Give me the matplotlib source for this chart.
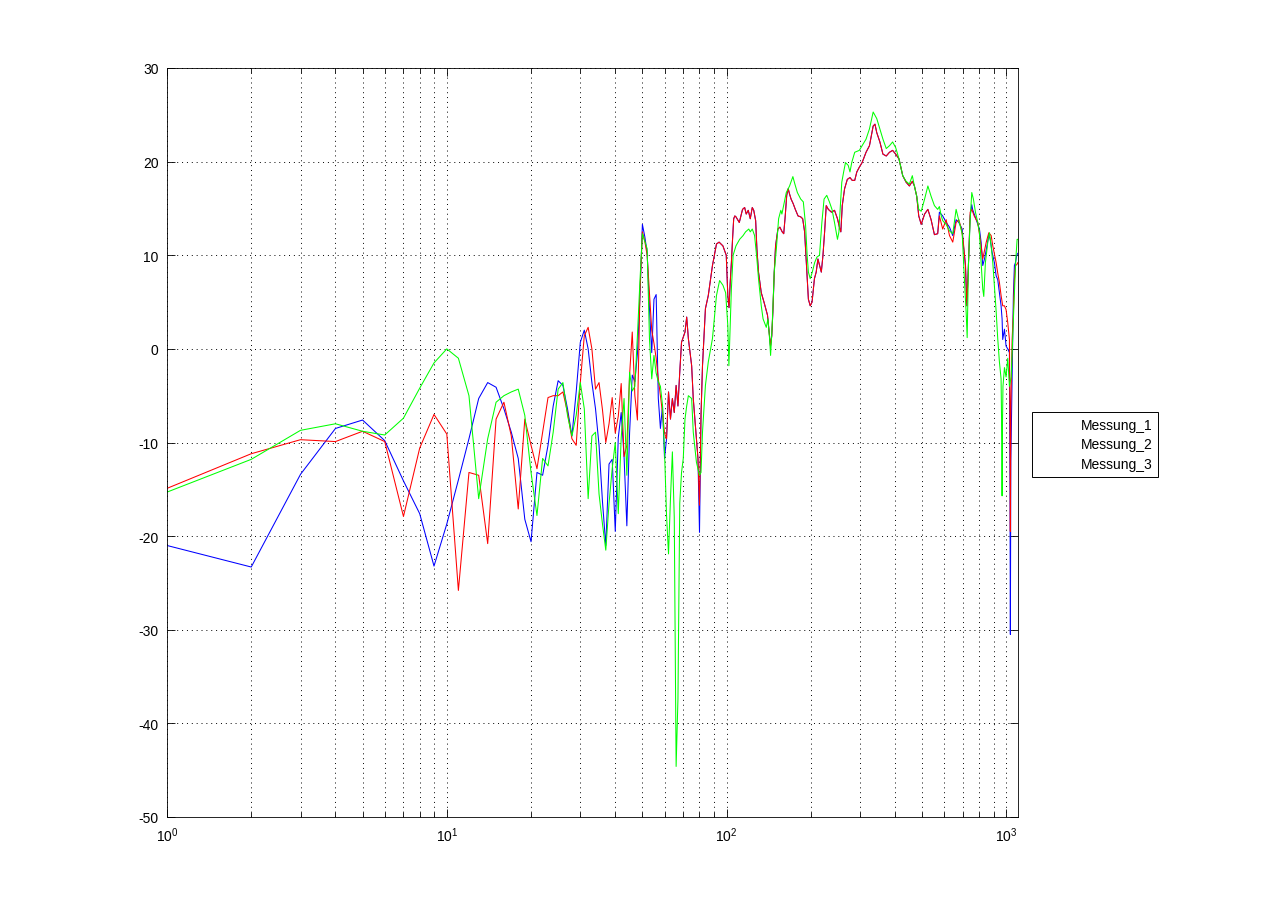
import matplotlib
matplotlib.use("Agg")
import matplotlib.pyplot as plt
from matplotlib.lines import Line2D
from matplotlib.ticker import LogLocator, NullFormatter, FixedLocator

# ---------------------------------------------------------------------------
# Data (frequency in Hz, level in dB)
# ---------------------------------------------------------------------------

freq_m1 = [1, 2, 3, 4, 5, 6, 7, 8, 9, 10, 11, 12, 13, 14, 15, 16, 17, 18, 19, 20,
           21, 22, 23, 24, 25, 26, 27, 28, 29, 30, 31, 32, 33, 34, 35, 36, 37, 38, 39, 40,
           41, 42, 43, 44, 45, 46, 47, 48, 49, 50, 51, 52, 53, 54, 55, 56, 57, 58, 59, 60,
           61, 62, 63, 64, 65, 66, 67, 68, 69, 71, 72, 73, 75, 76, 78, 79, 80, 81, 82, 84,
           86, 89, 92, 94, 97, 99.7, 101, 102, 103, 104, 105, 106, 107, 108, 110, 111, 114,
           116, 117.5, 119.5, 121.5, 123.5, 125, 127, 128.3, 130, 133, 136, 140, 142.4,
           143.5, 145, 146.3, 148, 149.6, 152.5, 155, 158, 160, 162, 164, 166, 168, 170,
           173, 176, 180, 184, 187, 190, 193, 196, 199, 202, 206, 209, 212, 215, 218, 221,
           224, 227, 231, 237, 243, 249, 254, 256, 259, 264, 270, 276, 281, 287, 292, 298,
           305, 315, 324, 334, 339, 344, 353, 362, 372, 382, 392, 402, 413, 426, 438, 450,
           461, 469, 478, 486, 496, 510, 524, 538, 553, 568, 576, 592, 609, 626, 643, 661,
           676, 695, 700, 714, 722, 732, 742, 752, 757, 780, 801, 812, 823, 835, 852, 865,
           875, 889, 906, 919, 931, 944, 957, 965, 970, 984, 997, 1011, 1025, 1030, 1033,
           1037, 1048, 1059, 1068, 1077, 1089, 1098]
db_m1 = [-21.0, -23.3, -13.4, -8.5, -7.6, -9.8, -14.1, -17.6, -23.2, -18.7, -14.0, -9.6,
         -5.3, -3.6, -4.1, -6.4, -8.9, -11.7, -18.2, -20.6, -13.2, -13.5, -10.3, -6.1, -3.4,
         -3.9, -6.4, -9.3, -4.6, 0.7, 2.0, 0.0, -3.6, -6.4, -10.3, -16.3, -21.0, -12.3,
         -11.8, -19.5, -9.5, -6.8, -11.5, -18.9, -9.0, -2.8, -3.5, -0.5, 5.5, 13.3, 12.0,
         10.3, 4.3, -0.4, 5.3, 5.8, -5.3, -8.5, -6.1, -11.7, -9.6, -4.6, -7.5, -5.3, -6.8,
         -3.9, -6.1, -2.5, 0.7, 1.8, 3.4, 1.1, -1.8, -5.3, -9.6, -11.7, -19.6, -7.1, -1.8,
         4.3, 5.7, 8.9, 11.2, 11.4, 11.0, 10.0, 5.7, 4.4, 7.1, 9.2, 11.7, 13.9, 14.2, 14.1,
         13.7, 13.5, 14.9, 15.1, 14.4, 14.8, 13.9, 15.1, 14.8, 13.7, 10.7, 8.2, 6.0, 5.0,
         3.6, 1.4, 0.3, 1.4, 3.9, 8.2, 11.0, 12.8, 13.0, 12.5, 12.3, 14.2, 16.4, 17.1, 16.5,
         16.0, 15.5, 14.9, 14.2, 14.1, 13.9, 12.5, 8.9, 5.3, 4.6, 5.0, 7.5, 8.2, 9.6, 8.9,
         8.2, 10.0, 12.5, 15.3, 14.9, 14.6, 14.8, 13.9, 12.8, 12.5, 15.3, 17.1, 18.1, 18.3,
         18.0, 18.0, 18.9, 19.4, 19.9, 21.0, 21.7, 23.8, 24.0, 23.1, 22.1, 20.8, 20.6, 21.0,
         21.2, 20.8, 20.3, 18.5, 17.8, 17.4, 17.9, 17.4, 16.3, 14.2, 13.3, 14.4, 14.9, 13.8,
         12.2, 12.3, 14.6, 14.2, 13.5, 13.0, 12.1, 13.8, 13.5, 12.8, 11.4, 8.9, 4.6, 9.2,
         14.2, 15.4, 14.9, 13.8, 12.8, 11.4, 8.9, 9.6, 11.0, 12.2, 11.7, 10.3, 9.2, 7.8, 7.4,
         6.0, 4.6, 3.2, 1.0, 2.1, 0.3, 0.0, -0.4, -15.0, -30.5, -12.0, -3.0, 5.7, 8.9, 9.2,
         10.0, 10.2]

freq_m2 = [1, 2, 3, 4, 5, 6, 7, 8, 9, 10, 11, 12, 13, 14, 15, 16, 17, 18, 19, 20,
           21, 22, 23, 24, 25, 26, 27, 28, 29, 30, 31, 32, 33, 34, 35, 36, 37, 38, 39, 40,
           41, 42, 43, 44, 45, 46, 47, 48, 49, 50, 51, 52, 53, 54, 55, 56, 57, 58, 59, 60,
           61, 62, 63, 64, 65, 66, 67, 68, 69, 71, 72, 73, 75, 76, 78, 79, 80, 81, 82, 84,
           86, 89, 92, 94, 97, 99.7, 101, 102, 103, 104, 105, 106, 107, 108, 110, 111, 114,
           116, 117.5, 119.5, 121.5, 123.5, 125, 127, 128.3, 130, 133, 136, 140, 142.4,
           143.5, 145, 146.3, 148, 149.6, 152.5, 155, 158, 160, 162, 164, 166, 168, 170,
           173, 176, 180, 184, 187, 190, 193, 196, 199, 202, 206, 209, 212, 215, 218, 221,
           224, 227, 231, 237, 243, 249, 254, 256, 259, 264, 270, 276, 281, 287, 292, 298,
           305, 315, 324, 334, 339, 344, 353, 362, 372, 382, 392, 402, 413, 426, 438, 450,
           461, 469, 478, 486, 496, 510, 524, 538, 553, 568, 576, 592, 609, 626, 643, 661,
           676, 690, 700, 714, 722, 732, 742, 752, 767, 790, 812, 823, 847, 865, 882, 894,
           919, 931, 944, 957, 970, 984, 997, 1011, 1025, 1030, 1033, 1037, 1048, 1059,
           1068, 1077, 1089, 1098]
db_m2 = [-14.9, -11.2, -9.7, -9.9, -8.8, -9.9, -17.9, -10.6, -7.0, -9.1, -25.8, -13.2,
         -13.5, -20.8, -7.5, -5.7, -9.3, -17.1, -7.5, -10.3, -12.8, -8.9, -5.2, -5.0, -5.0,
         -4.6, -6.8, -9.6, -10.3, -3.6, 1.4, 2.3, 0.0, -4.3, -3.6, -6.5, -10.0, -8.0, -5.2,
         -9.0, -7.2, -3.7, -11.5, -10.3, -2.8, 1.8, -5.0, -7.6, 6.0, 12.5, 11.5, 10.0, 6.0,
         2.0, 0.6, -1.0, -3.2, -5.0, -6.8, -9.0, -9.6, -4.6, -7.5, -5.3, -6.8, -3.9, -6.1,
         -2.5, 0.7, 1.8, 3.4, 1.1, -1.8, -5.3, -9.6, -11.7, -16.7, -7.1, -1.8, 4.3, 5.7,
         8.9, 11.2, 11.4, 11.0, 10.0, 5.7, 4.4, 7.1, 9.2, 11.7, 13.9, 14.2, 14.1, 13.7, 13.5,
         14.9, 15.1, 14.4, 14.8, 13.9, 15.1, 14.8, 13.7, 10.7, 8.2, 6.0, 5.0, 3.6, 1.4, 0.3,
         1.4, 3.9, 8.2, 11.0, 12.8, 13.0, 12.5, 12.3, 14.2, 16.4, 17.1, 16.5, 16.0, 15.5,
         14.9, 14.2, 14.1, 13.9, 12.5, 8.9, 5.3, 4.6, 5.0, 7.5, 8.2, 9.6, 8.9, 8.2, 10.0,
         12.5, 15.3, 14.9, 14.6, 14.8, 13.9, 12.8, 12.5, 15.3, 17.1, 18.1, 18.3, 18.0, 18.0,
         18.9, 19.4, 19.9, 21.0, 21.7, 23.8, 24.0, 23.1, 22.1, 20.8, 20.6, 21.0, 21.2, 20.8,
         20.3, 18.5, 17.8, 17.4, 17.9, 17.4, 16.3, 14.2, 13.3, 14.4, 14.9, 13.8, 12.2, 12.3,
         14.2, 12.8, 13.8, 12.1, 11.4, 13.5, 13.8, 12.8, 11.7, 8.9, 4.6, 9.2, 14.6, 14.9,
         14.2, 13.5, 11.0, 9.6, 11.4, 12.4, 12.1, 11.0, 9.2, 8.1, 7.1, 5.7, 4.6, 4.6, 4.2,
         2.8, 1.0, -8.0, -19.5, -6.0, 1.0, 3.9, 7.4, 8.9, 9.0, 9.2]

freq_m3 = [1, 2, 3, 4, 5, 6, 7, 8, 9, 10, 11, 12, 13, 14, 15, 16, 17, 18, 19, 20,
           21, 22, 23, 24, 25, 26, 27, 28, 29, 30, 31, 32, 33, 34, 35, 36, 37, 38, 39, 40,
           41, 42, 43, 44, 45, 46, 47, 48, 49, 50, 51, 52, 53, 54, 55, 56, 57, 58, 59, 60,
           61, 62, 63, 64, 65, 66, 67, 68, 69, 70, 71, 72, 73, 75, 76, 78, 80, 81, 82, 84,
           86, 89, 92, 94.4, 97, 99.2, 101, 101.9, 104, 105.5, 108, 111.3, 114.5, 116.9, 120,
           121.5, 123.5, 125.9, 128.3, 130, 133, 135, 138.6, 140.5, 142.4, 143.6, 145.5, 148,
           150.6, 153.4, 156.2, 157.6, 159.8, 163.4, 167.9, 172.5, 175.4, 179, 184, 188,
           191.5, 194, 196, 199, 202.4, 206.3, 210.2, 214.8, 219, 223, 228, 233, 238, 243,
           249, 252, 255, 258, 262, 266, 272, 276, 280, 287, 298, 305, 315, 324, 334, 344,
           353, 362, 372, 382, 392, 402, 413, 426, 438, 450, 461, 469, 478, 486, 496, 510,
           524, 538, 553, 568, 576, 585, 592, 600, 609, 626, 643, 661, 676, 695, 708, 718,
           724, 732, 742, 752, 762, 775, 790, 801, 812, 823, 830, 841, 858, 870, 882, 894,
           906, 919, 931, 944, 957, 963, 965, 968, 972, 984, 997, 1011, 1025, 1040, 1055,
           1068, 1080, 1092, 1098]
db_m3 = [-15.3, -11.8, -8.7, -8.0, -8.8, -9.2, -7.4, -4.2, -1.5, 0.0, -1.0, -5.0, -16.0,
         -9.6, -5.7, -5.0, -4.6, -4.3, -7.1, -13.2, -17.8, -11.7, -12.5, -8.9, -4.3, -3.6,
         -7.1, -9.3, -7.1, -3.6, -6.4, -16.0, -9.3, -8.9, -15.5, -18.7, -21.5, -16.5, -12.8,
         -10.0, -17.6, -9.5, -5.3, -13.5, -2.5, -4.5, -4.0, 1.4, 7.2, 12.3, 11.5, 10.7, 1.1,
         -3.2, -0.7, -2.6, -3.5, -4.0, -6.0, -11.0, -17.8, -21.9, -16.0, -11.0, -18.0,
         -44.6, -37.4, -16.5, -13.2, -11.7, -7.5, -6.1, -5.0, -5.3, -8.9, -12.1, -13.5,
         -13.2, -8.9, -3.9, -1.4, 1.1, 5.7, 7.3, 6.8, 6.0, 2.5, -1.8, 6.4, 10.0, 11.0, 11.7,
         12.1, 12.5, 12.8, 12.5, 12.8, 12.1, 9.6, 7.5, 4.6, 3.2, 2.3, 3.2, 1.1, -0.7, 2.5,
         8.2, 10.7, 13.9, 14.8, 14.4, 15.3, 16.7, 17.4, 18.4, 17.6, 16.7, 16.0, 15.7, 13.2,
         10.0, 8.2, 7.5, 8.2, 9.2, 9.8, 10.0, 13.5, 16.0, 16.4, 15.7, 14.9, 13.5, 11.7, 12.5,
         15.3, 17.8, 18.9, 19.9, 19.6, 18.9, 19.9, 21.0, 21.2, 21.7, 22.4, 23.5, 25.3, 24.6,
         23.5, 22.4, 21.4, 21.7, 22.1, 21.5, 20.3, 18.5, 17.9, 17.6, 18.5, 17.4, 16.3, 14.9,
         14.7, 16.0, 17.4, 16.3, 15.3, 14.9, 15.2, 14.2, 13.7, 13.5, 13.3, 12.6, 12.3, 14.9,
         13.7, 12.3, 7.3, 3.9, 1.2, 9.2, 13.8, 16.7, 16.0, 14.6, 13.5, 12.4, 9.2, 6.4, 5.6,
         9.2, 11.4, 12.4, 11.0, 9.2, 6.7, 4.0, 1.1, -1.4, -3.2, -10.0, -15.7, -8.0, -4.0,
         -2.0, -3.0, -1.0, -4.0, -3.0, 2.0, 6.0, 9.5, 11.7, 11.7]

legend_labels = ["Messung_1", "Messung_2", "Messung_3"]
x_ticks = [1, 10, 100, 1000]
x_tick_labels = ["$10^{0}$", "$10^{1}$", "$10^{2}$", "$10^{3}$"]
y_ticks = [-50, -40, -30, -20, -10, 0, 10, 20, 30]

# ---------------------------------------------------------------------------
# Style (MATLAB-like)
# ---------------------------------------------------------------------------

plt.rcParams["font.family"] = ["Liberation Sans", "DejaVu Sans"]
plt.rcParams["mathtext.fontset"] = "custom"
plt.rcParams["mathtext.rm"] = "Liberation Sans"
plt.rcParams["mathtext.it"] = "Liberation Sans"
plt.rcParams["axes.unicode_minus"] = False

fig = plt.figure(figsize=(12.81, 9.20), dpi=100, facecolor="white")
ax = fig.add_axes([167 / 1281, 1 - 818 / 920, (1018 - 167) / 1281, (818 - 69) / 920])

lw = 0.75
ax.plot(freq_m1, db_m1, color="#0000ff", linewidth=lw)
ax.plot(freq_m2, db_m2, color="#ff0000", linewidth=lw)
ax.plot(freq_m3, db_m3, color="#00ff00", linewidth=lw)

ax.set_xscale("log")
ax.set_xlim(1, 1100)
ax.set_ylim(-50, 30)

ax.xaxis.set_major_locator(FixedLocator(x_ticks))
ax.set_xticklabels(x_tick_labels)
ax.xaxis.set_minor_locator(LogLocator(base=10, subs=range(2, 10), numticks=20))
ax.xaxis.set_minor_formatter(NullFormatter())
ax.set_yticks(y_ticks)
ax.set_yticklabels([str(v) for v in y_ticks])

grid_style = dict(color="black", linestyle=(0, (1, 4)), linewidth=0.7)
ax.grid(True, which="major", axis="both", **grid_style)
ax.grid(True, which="minor", axis="x", **grid_style)

ax.tick_params(which="both", direction="in", top=True, right=True,
               labelsize=10, width=0.6, colors="black")
ax.tick_params(which="major", length=6)
ax.tick_params(which="minor", length=3.5)
ax.tick_params(axis="x", which="major", pad=6)
ax.tick_params(axis="y", which="major", pad=6)
for side in ax.spines.values():
    side.set_linewidth(0.6)
    side.set_color("black")

# legend with invisible line samples, as in the reference
handles = [Line2D([0], [0], color="white", linewidth=lw) for _ in legend_labels]
leg = fig.legend(handles, legend_labels, loc="upper left",
                 bbox_to_anchor=(1032 / 1281, 1 - 413 / 920),
                 frameon=True, fancybox=False, shadow=False, framealpha=1,
                 edgecolor="black", fontsize=10, handlelength=2.3,
                 handletextpad=0.8, borderpad=0.4, labelspacing=0.42,
                 borderaxespad=0)
leg.get_frame().set_linewidth(0.7)

fig.savefig("out.png", dpi=100, facecolor="white")
